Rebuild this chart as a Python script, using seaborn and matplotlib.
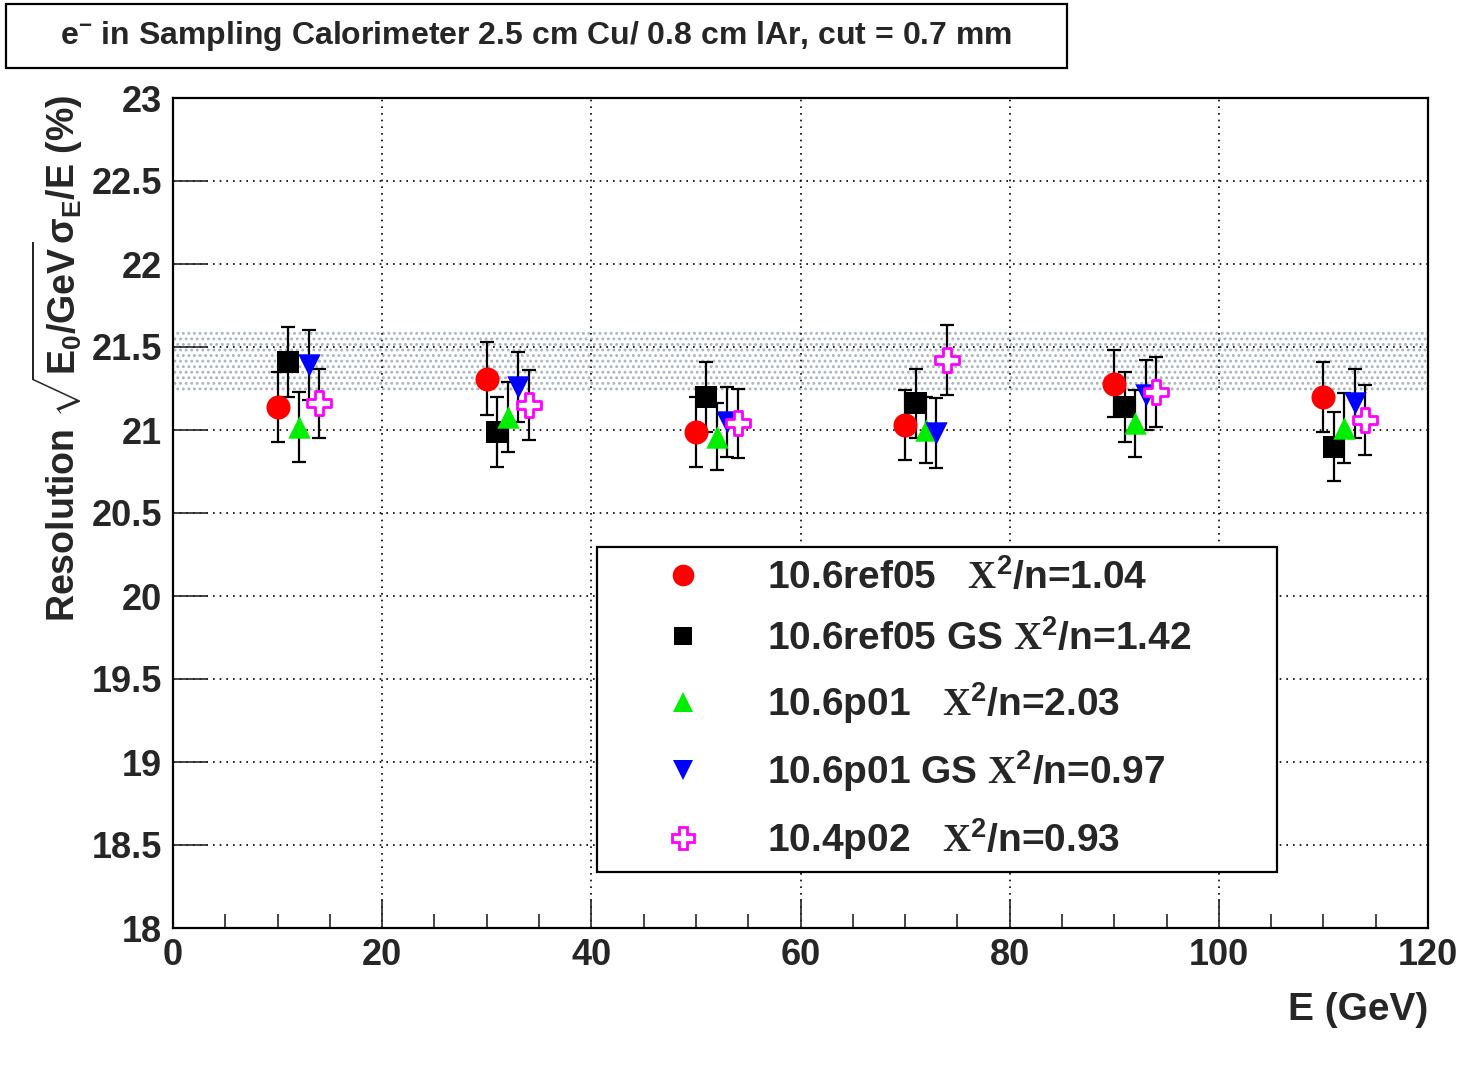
import numpy as np
import pandas as pd
import matplotlib
matplotlib.use('Agg')
import matplotlib.pyplot as plt
import seaborn as sns
from matplotlib.lines import Line2D
from matplotlib.patches import Rectangle

# energie des faisceaux (GeV) et decalage de chaque serie pour la lisibilite
energy = [10, 30, 50, 70, 90, 110]
shifts = [0, 1, 2, 3, 4]

names = ['10.6ref05', '10.6ref05 GS', '10.6p01', '10.6p01 GS', '10.4p02']
gaps = ['   ', ' ', '   ', ' ', '   ']
chi2 = [1.04, 1.42, 2.03, 0.97, 0.93]

ref05 = [21.14, 21.31, 20.99, 21.03, 21.28, 21.20]
ref05_err = [0.21, 0.22, 0.21, 0.21, 0.20, 0.21]
ref05_gs = [21.41, 20.99, 21.20, 21.16, 21.14, 20.90]
ref05_gs_err = [0.21, 0.21, 0.21, 0.21, 0.21, 0.21]
p01 = [21.02, 21.08, 20.96, 21.00, 21.04, 21.01]
p01_err = [0.21, 0.21, 0.20, 0.20, 0.20, 0.21]
p01_gs = [21.39, 21.26, 21.05, 20.98, 21.21, 21.16]
p01_gs_err = [0.21, 0.21, 0.21, 0.21, 0.21, 0.21]
p02 = [21.16, 21.15, 21.04, 21.42, 21.23, 21.06]
p02_err = [0.21, 0.21, 0.21, 0.21, 0.21, 0.21]

# bande de reference (donnees)
band_low, band_high = 21.22, 21.60

values = [ref05, ref05_gs, p01, p01_gs, p02]
errors = [ref05_err, ref05_gs_err, p01_err, p01_gs_err, p02_err]

# style des marqueurs
markers = ['o', 's', '^', 'v', 'P']
faces = ['#ff0000', '#000000', '#00ee00', '#0000ff', 'white']
edges = ['#ff0000', '#000000', '#00ee00', '#0000ff', '#ff00ff']
sizes = [300, 230, 260, 260, 320]

sns.set_theme(style='white')
plt.rcParams['font.family'] = ['Liberation Sans', 'DejaVu Sans']
plt.rcParams['font.weight'] = 'bold'
plt.rcParams['mathtext.fontset'] = 'custom'
plt.rcParams['mathtext.rm'] = 'Liberation Serif'
plt.rcParams['mathtext.sf'] = 'Liberation Sans:bold'
plt.rcParams['mathtext.it'] = 'Liberation Sans:bold'
plt.rcParams['mathtext.bf'] = 'Liberation Sans:bold'
plt.rcParams['hatch.color'] = '#a8b4bf'
plt.rcParams['hatch.linewidth'] = 1.3

# tableau long pour seaborn
rows = []
for k in range(len(names)):
    for i, e in enumerate(energy):
        rows.append({'serie': names[k], 'E': e + shifts[k],
                     'res': values[k][i], 'err': errors[k][i]})
df = pd.DataFrame(rows)

fig = plt.figure(figsize=(14.7, 10.88), dpi=100)
ax = fig.add_axes([173 / 1470, 1 - 928 / 1088, 1255 / 1470, 830 / 1088])

ax.axhspan(band_low, band_high, facecolor='none', edgecolor='#a8b4bf',
           hatch='...', linewidth=0, zorder=0.5)

for k, name in enumerate(names):
    d = df[df['serie'] == name]
    ax.errorbar(d['E'], d['res'], yerr=d['err'], fmt='none', ecolor='black',
                elinewidth=1.6, capsize=5, capthick=1.6, zorder=2)
    sns.scatterplot(data=d, x='E', y='res', ax=ax, marker=markers[k],
                    color=faces[k], edgecolor=edges[k],
                    linewidth=2 if k == 4 else 0, s=sizes[k], zorder=3,
                    legend=False)

ax.set_xlim(0, 120)
ax.set_ylim(18, 23)
ax.set_xticks(np.arange(0, 121, 20))
ax.set_xticks(np.arange(0, 121, 5), minor=True)
ax.set_yticks(np.arange(18, 23.01, 0.5))
ax.set_yticklabels(['18', '18.5', '19', '19.5', '20', '20.5', '21', '21.5',
                    '22', '22.5', '23'])
ax.grid(True, which='major', color='black', linestyle=(0, (1, 3)),
        linewidth=1.2)
ax.tick_params(axis='x', which='major', direction='in', length=21, width=1.2,
               labelsize=26, pad=7, bottom=True, top=False)
ax.tick_params(axis='x', which='minor', direction='in', length=10, width=1.2,
               bottom=True, top=False)
ax.tick_params(axis='y', which='major', direction='in', length=25, width=1.2,
               labelsize=26, pad=8, left=True, right=False)
for s in ax.spines.values():
    s.set_color('black')
    s.set_linewidth(1.6)
ax.set_xlabel('')
ax.set_ylabel('')

fig.text(1428 / 1470, 1 - 1010 / 1088, 'E (GeV)', ha='right', va='center',
         fontsize=28, fontweight='bold')
fig.text(57 / 1470, 1 - 95 / 1088,
         r'Resolution $\mathsf{\sqrt{E_0/GeV}\sigma_E/E}$ (%)',
         rotation=90, ha='center', va='top', fontsize=27, fontweight='bold')

# cadre du titre
fig.patches.append(Rectangle((6 / 1470, 1 - 68 / 1088), 1061 / 1470,
                             64 / 1088, transform=fig.transFigure,
                             facecolor='white', edgecolor='black',
                             linewidth=1.6))
fig.text(536 / 1470, 1 - 36 / 1088,
         r'e$\mathsf{^{-}}$ in Sampling Calorimeter 2.5 cm Cu/ 0.8 cm lAr, cut = 0.7 mm',
         ha='center', va='center', fontsize=23, fontweight='bold')

handles = []
labels = []
for k in range(len(names)):
    handles.append(Line2D([], [], linestyle='none', marker=markers[k],
                          markerfacecolor=faces[k], markeredgecolor=edges[k],
                          markeredgewidth=2 if k == 4 else 0,
                          markersize=np.sqrt(sizes[k]) * 0.9))
    labels.append(names[k] + gaps[k] + r'$\mathrm{X}^{\mathsf{2}}$/n=%.2f' % chi2[k])

leg = ax.legend(handles, labels, loc='upper left',
                bbox_to_anchor=(597 / 1470, 1 - 872 / 1088, 680 / 1470, 325 / 1088),
                bbox_transform=fig.transFigure, mode='expand',
                prop={'size': 28, 'weight': 'bold'}, frameon=True,
                fancybox=False, borderpad=0.28, labelspacing=0.57,
                handlelength=3.84, handletextpad=0.25, borderaxespad=0)
leg.get_frame().set_edgecolor('black')
leg.get_frame().set_linewidth(1.6)
leg.get_frame().set_alpha(1)

fig.savefig('out.png', dpi=100)
